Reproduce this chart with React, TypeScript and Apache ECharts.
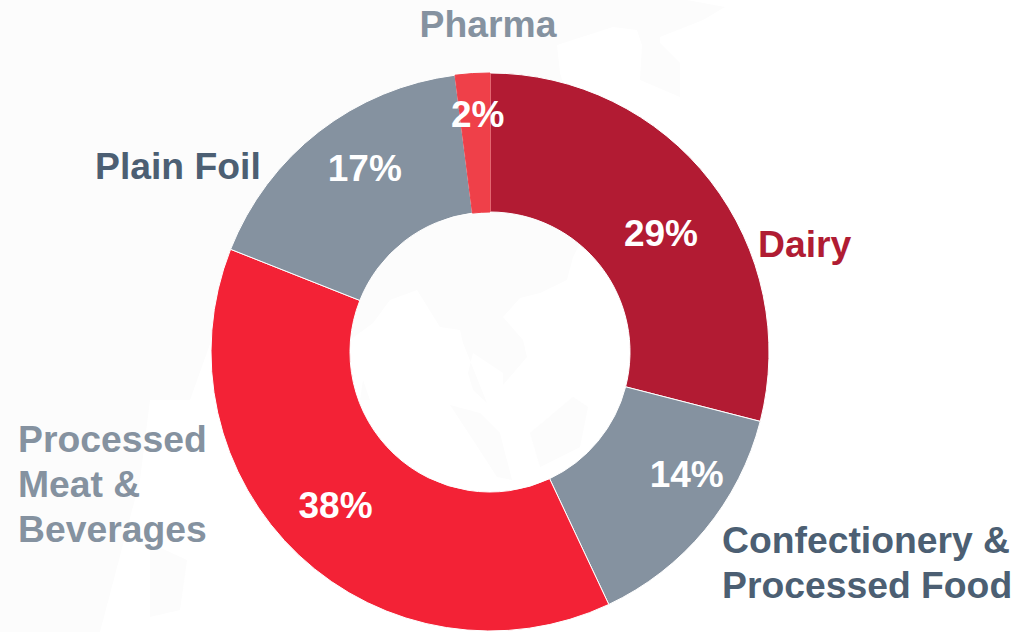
import React, { useEffect, useRef } from "react";
import * as echarts from "echarts";

const categories = ["Dairy", "Confectionery & Processed Food", "Processed Meat & Beverages", "Plain Foil", "Pharma"];
const shares = [29, 14, 38, 17, 2];
const sliceColors = ["#B21B33", "#8592A0", "#F32236", "#8592A0", "#EF4049"];
const sliceBorders = ["#FFFFFF", "#FFFFFF", "#FFFFFF", "#FFFFFF", "#EF4049"];
const labelOffsets = [[3, 12], [33, -13], [-9, -1], [5, -16], [1, -25]];

const nameLabels = [
  { text: "Pharma", x: 488, y: 24, align: "center", fill: "#8592A0" },
  { text: "Plain Foil", x: 95, y: 166, align: "left", fill: "#4C5F73" },
  { text: "Dairy", x: 758, y: 244, align: "left", fill: "#B01C33" },
  { text: "Processed\nMeat &\nBeverages", x: 18, y: 484, align: "left", fill: "#8592A0" },
  { text: "Confectionery &\nProcessed Food", x: 722, y: 562, align: "left", fill: "#4C5F73" },
];

// Faint map watermark behind the doughnut
const backdropShapes: number[][][] = [
  [[0, 0], [687, 0], [725, 7], [703, 20], [660, 37], [660, 43], [680, 63], [680, 97], [640, 80], [642, 45], [637, 30], [613, 27], [557, 45], [560, 73], [600, 200], [580, 243], [573, 257], [567, 280], [540, 293], [520, 298], [503, 317], [523, 340], [527, 357], [503, 385], [503, 373], [473, 353], [468, 373], [473, 390], [487, 403], [463, 343], [460, 330], [440, 327], [417, 290], [390, 300], [373, 323], [350, 340], [215, 330], [190, 400], [150, 400], [140, 480], [100, 632], [0, 632]],
  [[450, 405], [480, 413], [500, 433], [512, 480], [497, 477], [473, 440]],
  [[530, 433], [573, 397], [588, 407], [580, 447], [540, 467]],
  [[363, 380], [370, 400], [360, 400]],
  [[150, 543], [187, 560], [180, 610], [150, 617]],
];

export default function App() {
  const ref = useRef<HTMLDivElement>(null);
  useEffect(() => {
    const chart = echarts.init(ref.current!, null, { renderer: "svg" });
    chart.setOption({
      animation: false,
      backgroundColor: "#FFFFFF",
      series: [
        {
          type: "pie",
          z: 5,
          center: [490, 352],
          radius: [140, 279],
          startAngle: 90,
          clockwise: true,
          silent: true,
          label: {
            show: true,
            position: "inside",
            formatter: "{c}%",
            color: "#FFFFFF",
            fontFamily: "Liberation Sans",
            fontWeight: "bold",
            fontSize: 37,
          },
          labelLine: { show: false },
          labelLayout: (p: any) => ({
            dx: labelOffsets[p.dataIndex][0],
            dy: labelOffsets[p.dataIndex][1],
          }),
          data: categories.map((name, i) => ({
            name,
            value: shares[i],
            itemStyle: { color: sliceColors[i], borderColor: sliceBorders[i], borderWidth: 1 },
          })),
        },
      ],
      graphic: [
        ...backdropShapes.map((points) => ({
          type: "polygon",
          z: -10,
          silent: true,
          shape: { points },
          style: { fill: "#FCFCFC" },
        })),
        ...nameLabels.map((l) => ({
          type: "text",
          z: 10,
          x: l.x,
          y: l.y,
          style: {
            text: l.text,
            fill: l.fill,
            align: l.align,
            verticalAlign: "middle",
            font: 'bold 37.3px "Liberation Sans"',
            lineHeight: 45,
          },
        })),
      ],
    });
    return () => chart.dispose();
  }, []);
  return <div ref={ref} style={{ position: "fixed", left: 0, top: 0, width: 1032, height: 632 }} />;
}
